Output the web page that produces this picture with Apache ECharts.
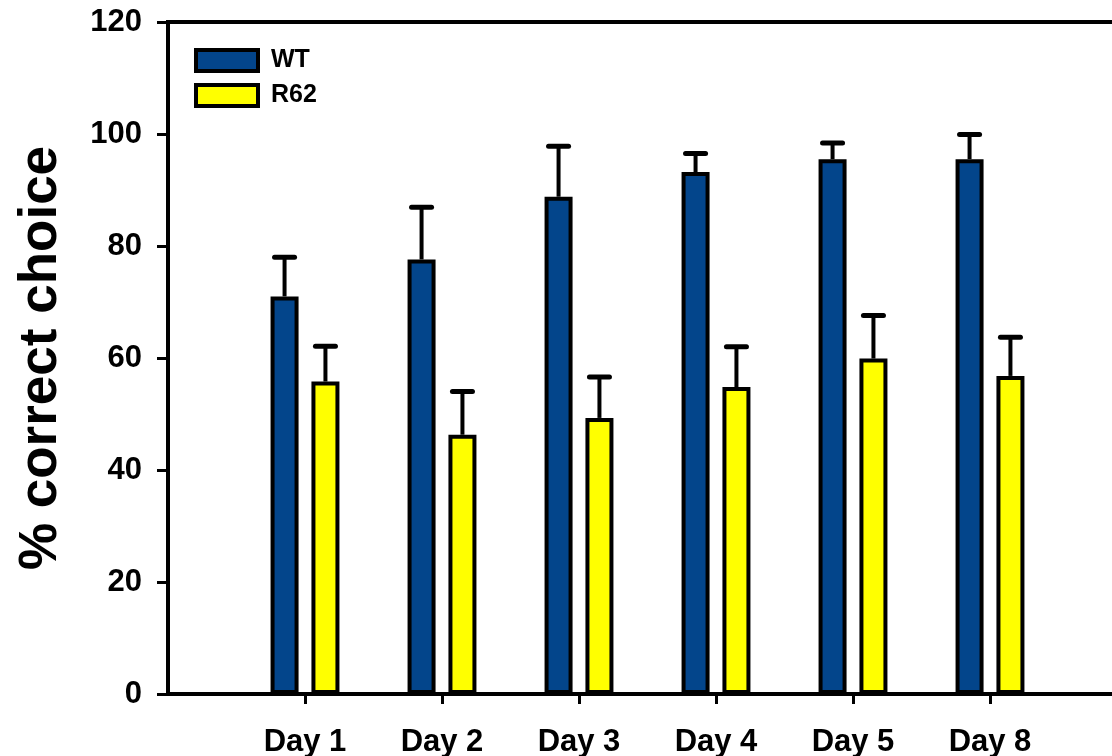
<!DOCTYPE html>
<html>
<head>
<meta charset="utf-8">
<script src="https://cdn.jsdelivr.net/npm/echarts@6/dist/echarts.min.js"></script>
<style>html,body{margin:0;padding:0;background:#fff;}#c{width:1112px;height:756px;}</style>
</head>
<body>
<div id="c"></div>
<script>
// Data
const categories = ['', 'Day 1', 'Day 2', 'Day 3', 'Day 4', 'Day 5', 'Day 8', ''];
const wtValues  = ['-', 71, 77.6, 88.8, 93.2, 95.5, 95.5, '-'];
const wtErrors  = [0, 7, 9.3, 9, 3.3, 2.9, 4.4, 0];
const r62Values = ['-', 55.8, 46.3, 49.3, 54.8, 59.9, 56.8, '-'];
const r62Errors = [0, 6.3, 7.7, 7.3, 7.2, 7.7, 6.9, 0];
const yTicks = [0, 20, 40, 60, 80, 100, 120];

const FONT = '"Liberation Sans", Arial, sans-serif';
const BAR_W = 28, GAP_PCT = 46;
const OFFSET = (BAR_W + BAR_W * GAP_PCT / 100) / 2;

function errData(vals, errs) {
  const out = [];
  vals.forEach((v, i) => { if (v !== '-') out.push([i, v, errs[i]]); });
  return out;
}
function errRenderer(offset) {
  return function (params, api) {
    const x = api.value(0), v = api.value(1), e = api.value(2);
    const p0 = api.coord([x, v]);
    const p1 = api.coord([x, v + e]);
    const cx = p0[0] + offset;
    return {
      type: 'group',
      children: [
        { type: 'line', shape: { x1: cx, y1: p0[1], x2: cx, y2: p1[1] }, style: { stroke: '#000', lineWidth: 4 } },
        { type: 'line', shape: { x1: cx - 10, y1: p1[1], x2: cx + 10, y2: p1[1] }, style: { stroke: '#000', lineWidth: 5, lineCap: 'round' } }
      ]
    };
  };
}

const chart = echarts.init(document.getElementById('c'), null, { renderer: 'canvas' });
chart.setOption({
  animation: false,
  backgroundColor: '#fff',
  textStyle: { fontFamily: FONT },
  grid: { left: 168, top: 22, width: 959, height: 672, outerBoundsMode: 'none', containLabel: false,
    show: true, borderColor: '#000', borderWidth: 4, backgroundColor: 'transparent' },
  legend: {
    data: ['WT', 'R62'],
    orient: 'vertical',
    left: 189, top: 43,
    itemWidth: 62, itemHeight: 21, itemGap: 10,
    icon: 'rect',
    itemStyle: { borderColor: '#000', borderWidth: 4 },
    textStyle: { fontFamily: FONT, fontWeight: 'bold', fontSize: 25, color: '#000', padding: [0, 0, 0, 8] }
  },
  xAxis: {
    type: 'category',
    data: categories,
    boundaryGap: false,
    axisLine: { lineStyle: { color: '#000', width: 4 } },
    axisTick: { show: true, length: 10, lineStyle: { color: '#000', width: 3 }, interval: (i) => i > 0 && i < categories.length - 1 },
    axisLabel: { interval: 0, margin: 33, color: '#000', fontFamily: FONT, fontWeight: 'bold', fontSize: 31 },
    splitLine: { show: false }
  },
  yAxis: {
    type: 'value',
    min: 0, max: 120, interval: 20,
    name: '% correct choice',
    nameLocation: 'middle',
    nameGap: 100,
    nameTextStyle: { color: '#000', fontFamily: FONT, fontWeight: 'bold', fontSize: 53 },
    axisLine: { show: true, lineStyle: { color: '#000', width: 4 } },
    axisTick: { show: true, length: 11, lineStyle: { color: '#000', width: 3 } },
    axisLabel: { margin: 26, color: '#000', fontFamily: FONT, fontWeight: 'bold', fontSize: 31,
      formatter: (v) => yTicks.indexOf(v) >= 0 ? String(v) : '' },
    splitLine: { show: false }
  },
  series: [
    { name: 'WT', type: 'bar', data: wtValues, barWidth: BAR_W, barGap: GAP_PCT + '%',
      itemStyle: { color: '#03458B', borderColor: '#000', borderWidth: 4 } },
    { name: 'R62', type: 'bar', data: r62Values, barWidth: BAR_W,
      itemStyle: { color: '#FFFF00', borderColor: '#000', borderWidth: 4 } },
    { name: 'WT err', type: 'custom', renderItem: errRenderer(-OFFSET), data: errData(wtValues, wtErrors), z: 5, encode: { x: 0, y: [1] } },
    { name: 'R62 err', type: 'custom', renderItem: errRenderer(OFFSET), data: errData(r62Values, r62Errors), z: 5, encode: { x: 0, y: [1] } }
  ]
});
</script>
</body>
</html>
